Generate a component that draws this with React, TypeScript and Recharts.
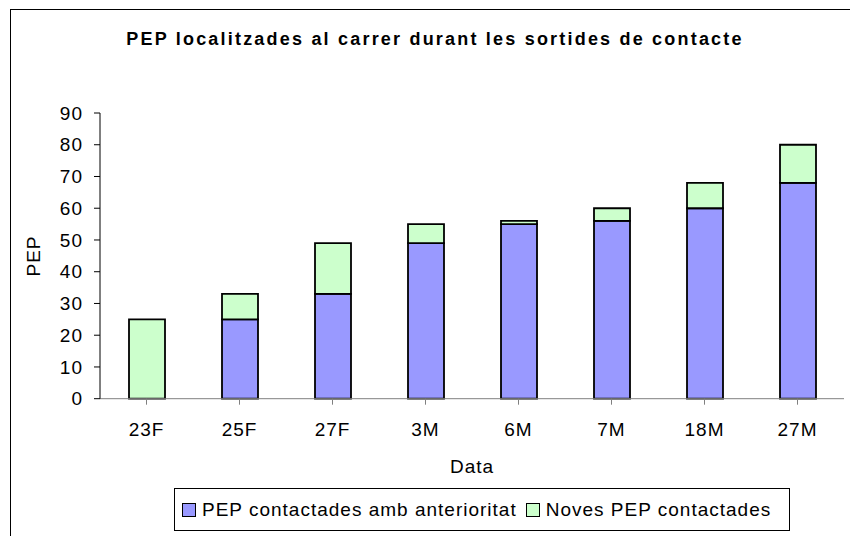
import React from 'react';
import { BarChart, Bar, XAxis, YAxis, Legend, Label } from 'recharts';

const dates = ['23F', '25F', '27F', '3M', '6M', '7M', '18M', '27M'];
const previous = [0, 25, 33, 49, 55, 56, 60, 68];
const newOnes = [25, 8, 16, 6, 1, 4, 8, 12];
const yTicks = [0, 10, 20, 30, 40, 50, 60, 70, 80, 90];
const seriesNames = ['PEP contactades amb anterioritat', 'Noves PEP contactades'];

const data = dates.map((d, i) => ({ date: d, previous: previous[i], newOnes: newOnes[i] }));

const FONT = 'Arial, "Liberation Sans", sans-serif';
const BLUE = '#9999FF';
const GREEN = '#CCFFCC';

// keep series order (recharts sorts legend items by name otherwise)
const renderLegend = (props: any) => {
  const items = [...(props.payload || [])].sort(
    (a: any, b: any) => seriesNames.indexOf(a.value) - seriesNames.indexOf(b.value)
  );
  return (
    <div style={styles.legendBox}>
      {items.map((it: any) => (
        <div key={it.value} style={{ display: 'flex', alignItems: 'center', marginRight: 9 }}>
          <span style={{ ...styles.swatch, background: it.color }} />
          <span>{it.value}</span>
        </div>
      ))}
    </div>
  );
};

const App: React.FC = () => {
  return (
    <div style={styles.page}>
      <div style={styles.frame} />
      <div style={styles.title}>PEP localitzades al carrer durant les sortides de contacte</div>
      <BarChart
        width={850}
        height={536}
        data={data}
        margin={{ top: 113, right: 6, bottom: 0, left: 0 }}
        barCategoryGap={0}
        style={{ position: 'absolute', left: 0, top: 0 }}
      >
        <XAxis
          dataKey="date"
          stroke="#808080"
          tickSize={6}
          tickMargin={18}
          height={94.3}
          tick={{ fill: '#000', fontSize: 19, fontFamily: FONT, letterSpacing: 1 }}
        >
          <Label
            content={() => (
              <text x={472} y={473} textAnchor="middle" fontSize={19} fontFamily={FONT} fill="#000" letterSpacing={1}>
                Data
              </text>
            )}
          />
        </XAxis>
        <YAxis
          width={100}
          domain={[0, 90]}
          ticks={yTicks}
          interval={0}
          stroke="#000"
          tickSize={6}
          tickMargin={11}
          tick={{ fill: '#000', fontSize: 19, fontFamily: FONT, letterSpacing: 1 }}
        >
          <Label
            content={() => (
              <text
                x={40}
                y={256}
                transform="rotate(-90 40 256)"
                textAnchor="middle"
                fontSize={19}
                fontFamily={FONT}
                fill="#000"
                letterSpacing={1}
              >
                PEP
              </text>
            )}
          />
        </YAxis>
        <Legend content={renderLegend} wrapperStyle={{ left: 174, top: 488, width: 'auto' }} />
        <Bar
          dataKey="previous"
          name={seriesNames[0]}
          stackId="a"
          fill={BLUE}
          stroke="#000"
          strokeWidth={1.8}
          barSize={36}
          isAnimationActive={false}
        />
        <Bar
          dataKey="newOnes"
          name={seriesNames[1]}
          stackId="a"
          fill={GREEN}
          stroke="#000"
          strokeWidth={1.8}
          barSize={36}
          isAnimationActive={false}
        />
      </BarChart>
    </div>
  );
};

const styles: { [k: string]: React.CSSProperties } = {
  page: {
    position: 'absolute',
    left: 0,
    top: 0,
    width: 850,
    height: 536,
    overflow: 'hidden',
    background: '#fff',
  },
  frame: {
    position: 'absolute',
    left: 10,
    top: 9,
    width: 880,
    height: 560,
    border: '1px solid #000',
  },
  title: {
    position: 'absolute',
    left: 10,
    top: 29,
    width: 850,
    textAlign: 'center',
    fontFamily: FONT,
    fontWeight: 'bold',
    fontSize: 18,
    letterSpacing: 2.2,
    color: '#000',
  },
  legendBox: {
    display: 'flex',
    alignItems: 'center',
    height: 43,
    paddingLeft: 7,
    paddingRight: 9,
    border: '1px solid #000',
    background: '#fff',
    fontFamily: FONT,
    fontSize: 19,
    letterSpacing: 1,
    color: '#000',
    whiteSpace: 'nowrap',
    boxSizing: 'border-box',
  },
  swatch: {
    display: 'inline-block',
    width: 12,
    height: 12,
    border: '1px solid #000',
    marginRight: 6,
  },
};

export default App;
